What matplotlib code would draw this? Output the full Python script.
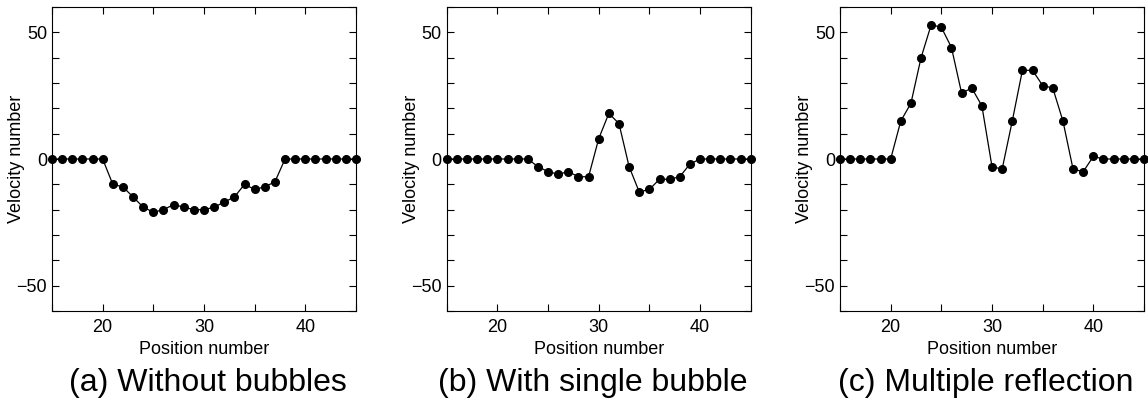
import numpy as np
import matplotlib
matplotlib.use('Agg')
import matplotlib.pyplot as plt
from matplotlib.ticker import MultipleLocator

plt.rcParams['font.family'] = ['Liberation Sans', 'DejaVu Sans']

# Datos
posicao = list(range(15, 46))

sem_bolhas = [0, 0, 0, 0, 0, 0,
              -10, -11, -15, -19, -21, -20, -18, -19, -20, -20, -19, -17, -15, -10, -12, -11, -9,
              0, 0, 0, 0, 0, 0, 0, 0]

bolha_unica = [0, 0, 0, 0, 0, 0, 0, 0, 0,
               -3, -5, -6, -5, -7, -7, 8, 18, 14, -3, -13, -12, -8, -8, -7, -2,
               0, 0, 0, 0, 0, 0]

reflexao_multipla = [0, 0, 0, 0, 0, 0,
                     15, 22, 40, 53, 52, 44, 26, 28, 21, -3, -4, 15, 35, 35, 29, 28, 15, -4, -5, 1,
                     0, 0, 0, 0, 0]

titulos = ['(a) Without bubbles', '(b) With single bubble', '(c) Multiple reflection']
series = [sem_bolhas, bolha_unica, reflexao_multipla]

fig = plt.figure(figsize=(11.48, 4.05), dpi=100)

W, H = 1148, 405
esquerdas = [52, 446.7, 840]
centros_titulo = [208, 593, 986]  # posicao horizontal das legendas (px)
for esq, dados, titulo, cx in zip(esquerdas, series, titulos, centros_titulo):
    ax = fig.add_axes([esq / W, (H - 311) / H, 304 / W, 304 / H])
    ax.plot(posicao, dados, color='black', linewidth=0.9, marker='o',
            markersize=5.5, clip_on=False)
    ax.set_xlim(15, 45)
    ax.set_ylim(-60, 60)
    ax.xaxis.set_major_locator(MultipleLocator(10))
    ax.xaxis.set_minor_locator(MultipleLocator(5))
    ax.yaxis.set_major_locator(MultipleLocator(50))
    ax.yaxis.set_minor_locator(MultipleLocator(10))
    ax.tick_params(which='both', direction='in', top=True, right=True,
                   length=5, width=0.8, labelsize=13)
    ax.tick_params(axis='x', pad=6)
    ax.tick_params(axis='y', pad=3.5)
    ax.set_xlabel('Position number', fontsize=13, labelpad=3)
    ax.set_ylabel('Velocity number', fontsize=13)
    ax.yaxis.set_label_coords(-0.089, 0.5)
    fig.text(cx / W, (H - 390.5) / H, titulo, ha='center',
             va='baseline', fontsize=23)

fig.savefig('out.png', dpi=100)
